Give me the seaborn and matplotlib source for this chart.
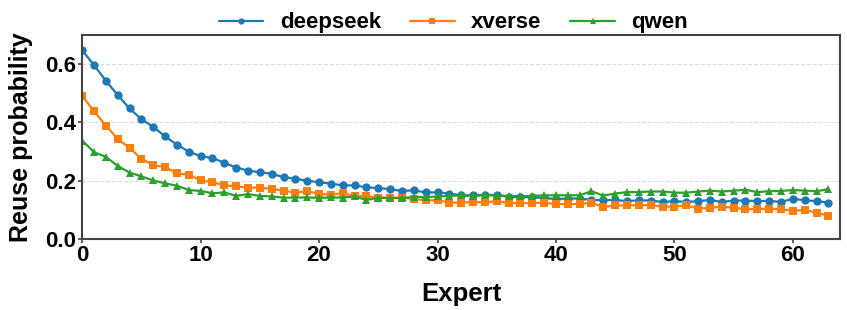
import numpy as np
import pandas as pd
import matplotlib
matplotlib.use("Agg")
import matplotlib.pyplot as plt
import seaborn as sns

experts = list(range(64))

deepseek = [0.648, 0.597, 0.543, 0.494, 0.448, 0.411, 0.385, 0.352, 0.324, 0.300,
            0.284, 0.278, 0.262, 0.245, 0.235, 0.229, 0.224, 0.212, 0.207, 0.200,
            0.195, 0.190, 0.184, 0.184, 0.177, 0.175, 0.171, 0.165, 0.167, 0.160,
            0.160, 0.156, 0.150, 0.150, 0.152, 0.150, 0.145, 0.144, 0.143, 0.141,
            0.137, 0.139, 0.139, 0.134, 0.133, 0.134, 0.130, 0.133, 0.132, 0.127,
            0.130, 0.127, 0.130, 0.134, 0.127, 0.132, 0.132, 0.130, 0.131, 0.127,
            0.138, 0.133, 0.130, 0.125]

xverse = [0.491, 0.439, 0.389, 0.344, 0.312, 0.276, 0.253, 0.247, 0.225, 0.221,
          0.201, 0.195, 0.184, 0.181, 0.176, 0.176, 0.172, 0.166, 0.159, 0.164,
          0.155, 0.152, 0.158, 0.147, 0.148, 0.142, 0.142, 0.142, 0.137, 0.133,
          0.133, 0.125, 0.125, 0.127, 0.126, 0.130, 0.124, 0.122, 0.124, 0.124,
          0.120, 0.120, 0.120, 0.124, 0.110, 0.115, 0.115, 0.116, 0.116, 0.111,
          0.111, 0.116, 0.104, 0.107, 0.111, 0.107, 0.102, 0.103, 0.104, 0.102,
          0.097, 0.100, 0.090, 0.080]

qwen = [0.338, 0.298, 0.282, 0.251, 0.228, 0.215, 0.201, 0.191, 0.183, 0.168,
        0.165, 0.157, 0.160, 0.148, 0.154, 0.148, 0.146, 0.142, 0.142, 0.143,
        0.141, 0.143, 0.142, 0.146, 0.134, 0.142, 0.140, 0.141, 0.144, 0.144,
        0.146, 0.148, 0.150, 0.147, 0.151, 0.149, 0.148, 0.147, 0.148, 0.150,
        0.150, 0.150, 0.150, 0.164, 0.149, 0.156, 0.161, 0.161, 0.163, 0.163,
        0.159, 0.159, 0.163, 0.166, 0.163, 0.166, 0.169, 0.161, 0.164, 0.165,
        0.168, 0.166, 0.164, 0.171]

models = ["deepseek", "xverse", "qwen"]

df = pd.DataFrame({
    "Expert": experts * 3,
    "prob": deepseek + xverse + qwen,
    "model": [m for m in models for _ in experts],
})

sns.set_style("ticks")
plt.rcParams["font.family"] = ["Liberation Sans", "DejaVu Sans"]
plt.rcParams["font.weight"] = "bold"
plt.rcParams["text.color"] = "black"
plt.rcParams["axes.labelcolor"] = "black"
plt.rcParams["xtick.color"] = "black"
plt.rcParams["ytick.color"] = "black"

fig, ax = plt.subplots(figsize=(8.47, 3.10), dpi=100)
sns.lineplot(data=df, x="Expert", y="prob", hue="model", style="model",
             markers={"deepseek": "o", "xverse": "s", "qwen": "^"}, dashes=False,
             palette=["#1f77b4", "#ff7f0e", "#2ca02c"], markersize=6,
             markeredgewidth=0, linewidth=1.6, ax=ax)

ax.set_xlim(0, 64)
ax.set_ylim(0, 0.7)
ax.set_xticks([0, 10, 20, 30, 40, 50, 60])
ax.set_yticks([0.0, 0.2, 0.4, 0.6])
ax.set_yticklabels(["0.0", "0.2", "0.4", "0.6"])
ax.yaxis.grid(True, linestyle="--", color="#dddddd", linewidth=0.8)
ax.tick_params(labelsize=16, length=3, width=1.2, pad=1, color="#444444")
for lbl in ax.get_xticklabels() + ax.get_yticklabels():
    lbl.set_fontweight("bold")
ax.set_xlabel("Expert", fontsize=18.5, fontweight="bold", labelpad=12)
ax.set_ylabel("Reuse probability", fontsize=18, fontweight="bold", labelpad=9)
for sp in ax.spines.values():
    sp.set_color("#444444")
    sp.set_linewidth(1.5)

ax.legend(loc="lower center", bbox_to_anchor=(0.49, 0.91), ncol=3, frameon=False,
          markerscale=0.75, handlelength=2.0, handletextpad=0.75, columnspacing=1.3,
          prop={"weight": "bold", "size": 16})

plt.subplots_adjust(left=0.097, right=0.992, top=0.887, bottom=0.229)
plt.savefig("out.png", dpi=100)
